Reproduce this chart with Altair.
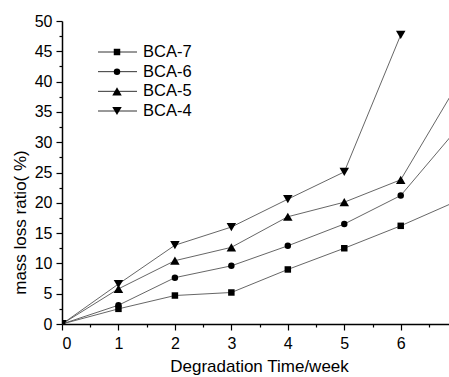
import altair as alt
import pandas as pd

# Mass loss (%) of each sample against degradation time (weeks)
weeks = [0, 1, 2, 3, 4, 5, 6, 7]
series_names = ["BCA-7", "BCA-6", "BCA-5", "BCA-4"]
bca7 = [0, 2.5, 4.7, 5.2, 9.0, 12.5, 16.2, 20.3]
bca6 = [0, 3.1, 7.65, 9.6, 12.9, 16.5, 21.2, 32.2]
bca5 = [0, 5.8, 10.45, 12.65, 17.7, 20.1, 23.8, 39.5]
bca4 = [0, 6.6, 13.0, 16.0, 20.6, 25.1, 47.7]
marker_shapes = ["square", "circle", "triangle-up", "triangle-down"]

rows = []
for name, vals in zip(series_names, [bca7, bca6, bca5, bca4]):
    for w, v in zip(weeks, vals):
        rows.append({"week": w, "loss": v, "series": name})
df = pd.DataFrame(rows)
legend_df = pd.DataFrame({"series": series_names})

W, H = 387, 303
X_MAX = 6.855
FONT = "Liberation Sans"

# Triangles need more area than squares/circles to look the same size
MARKER_SIZE_EXPR = "indexof(['BCA-5', 'BCA-4'], datum.series) >= 0 ? 90 : 42"

x_scale = alt.Scale(domain=[0, X_MAX], nice=False, zero=False)
y_scale = alt.Scale(domain=[0, 50], nice=False)
shape_scale = alt.Scale(domain=series_names, range=marker_shapes)

x_axis = alt.Axis(
    title="Degradation Time/week",
    values=[i * 0.5 for i in range(14)],
    labelExpr="datum.value % 1 === 0 ? format(datum.value, 'd') : ''",
    tickSize={"condition": {"test": "datum.value % 1 === 0", "value": 6}, "value": 3},
    labelPadding=5,
    grid=False,
    titleX=197,
    titleY=47,
    titleAlign="center",
    titleBaseline="alphabetic",
)
y_axis = alt.Axis(
    title="mass loss ratio( %)",
    values=[i * 2.5 for i in range(21)],
    labelExpr="datum.value % 5 === 0 ? format(datum.value, 'd') : ''",
    tickSize={"condition": {"test": "datum.value % 5 === 0", "value": 6}, "value": 3},
    labelPadding=4,
    grid=False,
    titleX=-42,
    titleY=201,
    titleAlign="center",
    titleBaseline="middle",
)

base = alt.Chart(df).encode(
    x=alt.X("week:Q", scale=x_scale, axis=x_axis),
    y=alt.Y("loss:Q", scale=y_scale, axis=y_axis),
)

lines = base.mark_line(color="#555", strokeWidth=0.9, clip=True).encode(
    detail="series:N"
)
points = (
    base.transform_filter("datum.week <= 6")
    .transform_calculate(msize=MARKER_SIZE_EXPR)
    .mark_point(filled=True, color="black", opacity=1, clip=True)
    .encode(
        shape=alt.Shape("series:N", scale=shape_scale, legend=None),
        size=alt.Size("msize:Q", scale=None, legend=None),
    )
)

main = alt.layer(lines, points)

# Hand-drawn key: line - marker - line, then the label
legend_y = alt.Y(
    "series:N",
    scale=alt.Scale(type="point", domain=series_names, range=[31, 90], padding=0),
    axis=None,
)
leg_base = alt.Chart(legend_df).encode(y=legend_y)
leg_rule = leg_base.mark_rule(color="#333", strokeWidth=1).encode(
    x=alt.value(36), x2=alt.value(75)
)
leg_pts = (
    leg_base.transform_calculate(msize=MARKER_SIZE_EXPR)
    .mark_point(filled=True, color="black", opacity=1)
    .encode(
        x=alt.value(55),
        shape=alt.Shape("series:N", scale=shape_scale, legend=None),
        size=alt.Size("msize:Q", scale=None, legend=None),
    )
)
leg_txt = leg_base.mark_text(
    align="left", baseline="middle", font=FONT, fontSize=16.5, color="black"
).encode(x=alt.value(81), text="series:N")
key = alt.layer(leg_rule, leg_pts, leg_txt)

chart = (
    alt.layer(main, key)
    .resolve_scale(y="independent")
    .properties(
        width=W,
        height=H,
        padding={"left": 62, "top": 21, "right": 0, "bottom": 53},
        autosize=alt.AutoSizeParams(type="none"),
        background="white",
    )
    .configure_view(stroke=None)
    .configure_axis(
        domainColor="black",
        domainWidth=1.5,
        tickColor="black",
        tickWidth=1.2,
        labelFont=FONT,
        labelFontSize=16,
        labelColor="black",
        titleFont=FONT,
        titleFontSize=17,
        titleFontWeight="normal",
        titleColor="black",
    )
)

chart.save("out.html", embed_options={"renderer": "svg", "actions": False})
